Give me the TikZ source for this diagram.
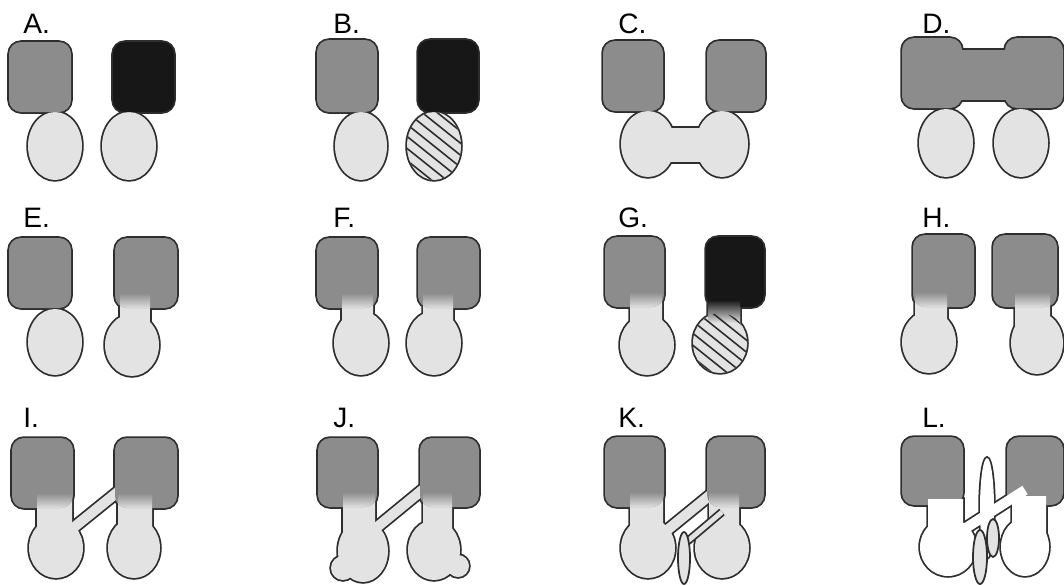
\documentclass[tikz,border=0pt]{standalone}
\usepackage{fontspec}
\setmainfont{Liberation Sans}

\definecolor{headgrey}{gray}{0.55}
\definecolor{headdark}{gray}{0.09}
\definecolor{bodygrey}{gray}{0.89}
\definecolor{ink}{gray}{0.18}

\tikzset{
  rim/.style={draw=ink, line width=2pt},
  rc/.style={rounded corners=6.8pt},
  head/.style={fill=headgrey, rc},
  dark/.style={fill=headdark, rc},
  body/.style={fill=bodygrey},
  barrim/.style={draw=ink, line width=7.7pt},
  bar/.style={draw=bodygrey, line width=5.7pt},
  thinrim/.style={draw=ink, line width=4.8pt},
  thinbar/.style={draw=bodygrey, line width=2.8pt},
  lobe/.style={draw=ink, line width=1pt, fill=bodygrey},
  hatchline/.style={draw=ink, line width=0.9pt},
  lab/.style={anchor=base west, inner sep=0pt, font=\fontsize{16}{16}\selectfont},
}

% head x1,y1,x2,y2 ; neck x1,x2 : grey runs out into the neck
\newcommand{\headfade}[6]{%
  \begin{scope}
    \clip[rc] (#1,#2) rectangle (#3,#4);
    \shade[top color=headgrey, bottom color=bodygrey] (#5,#4-15) rectangle (#6,#4+1);
  \end{scope}}

% centre x,y ; radii x,y : striped body
\newcommand{\hatchfill}[4]{%
  \begin{scope}
    \clip (#1,#2) ellipse (#3 and #4);
    \foreach \k in {-5,...,5}
      \draw[hatchline] ({#1+15*\k-50},{#2-40}) -- ++(100,80);
  \end{scope}}

\begin{document}
\begin{tikzpicture}[x=0.02cm, y=-0.02cm]
  \useasboundingbox (0,0) rectangle (1064,585);

  % ---------- A ----------
  \node[lab] (labA) at (23,33) {A.};
  \path[rim] (55,146) ellipse (27 and 34) (129,146) ellipse (27 and 34)
             [rc] (9,42) rectangle (71,112) (113,42) rectangle (174,112);
  \fill[body] (55,146) ellipse (27 and 34) (129,146) ellipse (27 and 34);
  \fill[head] (9,42) rectangle (71,112);
  \fill[dark] (113,42) rectangle (174,112);

  % ---------- B ----------
  \node[lab] (labB) at (333,33) {B.};
  \path[rim] (361,146) ellipse (26 and 34) (434,146) ellipse (27 and 34)
             [rc] (317,40) rectangle (377,112) (418,40) rectangle (478,112);
  \fill[body] (361,146) ellipse (26 and 34) (434,146) ellipse (27 and 34);
  \hatchfill{434}{146}{27}{34}
  \fill[head] (317,40) rectangle (377,112);
  \fill[dark] (418,40) rectangle (478,112);

  % ---------- C ---------- bodies joined
  \node[lab] (labC) at (618,33) {C.};
  \path[rim] (648,144) ellipse (27 and 33) (722,144) ellipse (26 and 33)
             (648,128) rectangle (722,162)
             [rc] (603,41) rectangle (663,111) (707,41) rectangle (765,111);
  \fill[body] (648,144) ellipse (27 and 33) (722,144) ellipse (26 and 33);
  \fill[body] (648,128) rectangle (722,162);
  \fill[head] (603,41) rectangle (663,111) (707,41) rectangle (765,111);

  % ---------- D ---------- heads joined
  \node[lab] (labD) at (922,33) {D.};
  \path[rim] (946,143) ellipse (27 and 34) (1021,143) ellipse (27 and 34)
             (955,50) rectangle (1012,100)
             [rc] (902,38) rectangle (962,108) (1005,38) rectangle (1063,108);
  \fill[body] (946,143) ellipse (27 and 34) (1021,143) ellipse (27 and 34);
  \fill[headgrey] (955,50) rectangle (1012,100);
  \fill[head] (902,38) rectangle (962,108) (1005,38) rectangle (1063,108);

  % ---------- E ----------
  \node[lab] (labE) at (23,227) {E.};
  \path[rim] (55,342) ellipse (27 and 33) (132,345) ellipse (27 and 31)
             (120,300) rectangle (150,326)
             [rc] (9,238) rectangle (71,308) (115,238) rectangle (177,308);
  \fill[body] (55,342) ellipse (27 and 33) (132,345) ellipse (27 and 31);
  \fill[body] (120,300) rectangle (150,326);
  \fill[head] (9,238) rectangle (71,308) (115,238) rectangle (177,308);
  \headfade{115}{238}{177}{308}{120}{150}

  % ---------- F ----------
  \node[lab] (labF) at (333,227) {F.};
  \path[rim] (361,343) ellipse (27 and 32) (434,343) ellipse (27 and 32)
             (342,300) rectangle (373,326) (423,300) rectangle (453,326)
             [rc] (317,238) rectangle (377,308) (418,238) rectangle (479,308);
  \fill[body] (361,343) ellipse (27 and 32) (434,343) ellipse (27 and 32);
  \fill[body] (342,300) rectangle (373,326) (423,300) rectangle (453,326);
  \fill[head] (317,238) rectangle (377,308) (418,238) rectangle (479,308);
  \headfade{317}{238}{377}{308}{342}{373}
  \headfade{418}{238}{479}{308}{423}{453}

  % ---------- G ----------
  \node[lab] (labG) at (618,227) {G.};
  \path[rim] (647,345) ellipse (27 and 30) (720,343) ellipse (27 and 30)
             (630,300) rectangle (662,326) (708,300) rectangle (740,326)
             [rc] (605,237) rectangle (664,307) (706,237) rectangle (764,307);
  \fill[body] (647,345) ellipse (27 and 30) (720,343) ellipse (27 and 30);
  \fill[body] (630,300) rectangle (662,326) (708,300) rectangle (740,326);
  \fill[head] (605,237) rectangle (664,307);
  \fill[dark] (706,237) rectangle (764,307);
  \headfade{605}{237}{664}{307}{630}{662}
  \shade[top color=headdark, bottom color=bodygrey] (708,300) rectangle (740,323);
  \hatchfill{720}{343}{27}{30}

  % ---------- H ----------
  \node[lab] (labH) at (922,227) {H.};
  \path[rim] (929,342) ellipse (27 and 31) (1037,343) ellipse (26 and 31)
             (915,300) rectangle (947,326) (1015,300) rectangle (1050,330)
             [rc] (913,235) rectangle (974,307) (993,235) rectangle (1057,307);
  \fill[body] (929,342) ellipse (27 and 31) (1037,343) ellipse (26 and 31);
  \fill[body] (915,300) rectangle (947,326) (1015,300) rectangle (1050,330);
  \fill[head] (913,235) rectangle (974,307) (993,235) rectangle (1057,307);
  \headfade{913}{235}{974}{307}{915}{947}
  \headfade{993}{235}{1057}{307}{1015}{1050}

  % ---------- I ---------- one bridge
  \node[lab] (labI) at (23,427) {I.};
  \coordinate (Ia) at (62,537);
  \coordinate (Ib) at (130,482);
  \draw[barrim] (Ia) -- (Ib);
  \path[rim] (56,548) ellipse (27 and 30) (134,548) ellipse (26 and 30)
             (37,500) rectangle (72,528) (118,500) rectangle (152,528)
             [rc] (12,438) rectangle (73,508) (115,438) rectangle (177,508);
  \fill[body] (56,548) ellipse (27 and 30) (134,548) ellipse (26 and 30);
  \fill[body] (37,500) rectangle (72,528) (118,500) rectangle (152,528);
  \draw[bar] (Ia) -- (Ib);
  \fill[head] (12,438) rectangle (73,508) (115,438) rectangle (177,508);
  \headfade{12}{438}{73}{508}{37}{72}
  \headfade{115}{438}{177}{508}{118}{152}

  % ---------- J ---------- bridge and buds
  \node[lab] (labJ) at (333,427) {J.};
  \coordinate (Ja) at (365,537);
  \coordinate (Jb) at (432,482);
  \draw[barrim] (Ja) -- (Jb);
  \path[rim] (363,551) ellipse (25 and 31) (343,568) circle (12)
             (434,550) ellipse (26 and 30) (458,566) circle (11)
             (343,500) rectangle (375,534) (423,500) rectangle (452,532)
             [rc] (318,438) rectangle (377,507) (420,438) rectangle (479,507);
  \fill[body] (363,551) ellipse (25 and 31) (434,550) ellipse (26 and 30);
  \fill[body] (343,568) circle (12) (458,566) circle (11);
  \fill[body] (343,500) rectangle (375,534) (423,500) rectangle (452,532);
  \draw[bar] (Ja) -- (Jb);
  \fill[head] (318,438) rectangle (377,507) (420,438) rectangle (479,507);
  \headfade{318}{438}{377}{507}{343}{375}
  \headfade{420}{438}{479}{507}{423}{452}

  % ---------- K ---------- split bridge
  \node[lab] (labK) at (618,427) {K.};
  \coordinate (Ka) at (655,540);
  \coordinate (Kb) at (720,487);
  \coordinate (Kc) at (683,545);
  \coordinate (Kd) at (722,512);
  \draw[barrim] (Ka) -- (Kb);
  \path[rim] (648,548) ellipse (27 and 30) (722,548) ellipse (27 and 30)
             (630,500) rectangle (663,528) (709,500) rectangle (739,528)
             [rc] (605,437) rectangle (664,507) (707,437) rectangle (764,507);
  \fill[body] (648,548) ellipse (27 and 30) (722,548) ellipse (27 and 30);
  \fill[body] (630,500) rectangle (663,528) (709,500) rectangle (739,528);
  \draw[bar] (Ka) -- (Kb);
  \draw[thinrim] (Kc) -- (Kd);
  \draw[thinbar] (Kc) -- (Kd);
  \fill[head] (605,437) rectangle (664,507) (707,437) rectangle (764,507);
  \headfade{605}{437}{664}{507}{630}{663}
  \headfade{707}{437}{764}{507}{709}{739}
  \draw[lobe] (684,558) ellipse (6 and 26);

  % ---------- L ---------- open bodies
  \node[lab] (labL) at (922,427) {L.};
  \coordinate (La) at (955,535);
  \coordinate (Lb) at (1025,490);
  \draw[barrim] (La) -- (Lb);
  \path[rim] (948,547) ellipse (28 and 29) (1025,547) ellipse (24 and 29)
             (987,508) ellipse (7 and 50)
             (928,499) rectangle (963,528) (1012,496) rectangle (1046,535)
             [rc] (902,437) rectangle (963,505) (1007,437) rectangle (1063,505);
  \fill[head] (902,437) rectangle (963,505) (1007,437) rectangle (1063,505);
  \fill[white] (948,547) ellipse (28 and 29) (1025,547) ellipse (24 and 29);
  \fill[white] (928,499) rectangle (963,528) (1012,496) rectangle (1046,535);
  \fill[white] (987,508) ellipse (7 and 50);
  \draw[white, line width=5.7pt] (La) -- (Lb);
  \draw[lobe] (980,557) ellipse (7 and 27) (993,538) ellipse (6 and 19);
\end{tikzpicture}
\end{document}
